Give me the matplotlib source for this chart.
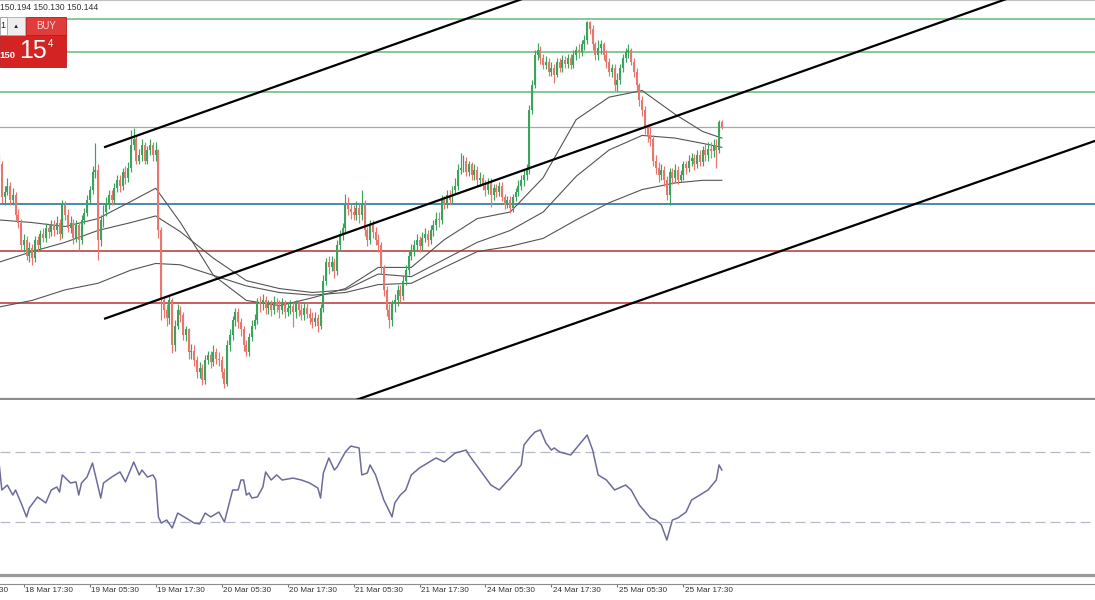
import matplotlib
matplotlib.use('Agg')
import matplotlib.pyplot as plt
import numpy as np
from matplotlib.patches import Rectangle

# --- data (USDJPY, M30) ---
first_open = 149.91
closes = [
    149.86, 149.61, 149.65, 149.70, 149.59, 149.63, 149.48, 149.42, 149.25, 149.29,
    149.17, 149.23, 149.15, 149.29, 149.25, 149.33, 149.30, 149.38, 149.35, 149.40,
    149.36, 149.42, 149.33, 149.55, 149.48, 149.38, 149.42, 149.30, 149.40, 149.29,
    149.44, 149.49, 149.59, 149.67, 149.80, 149.82, 149.29, 149.44, 149.50, 149.55,
    149.63, 149.59, 149.68, 149.74, 149.70, 149.80, 149.76, 149.83, 150.01, 150.05,
    149.89, 149.93, 150.01, 149.89, 149.97, 150.01, 149.93, 149.97, 149.36, 148.83,
    148.76, 148.70, 148.83, 148.49, 148.64, 148.76, 148.72, 148.57, 148.61, 148.44,
    148.45, 148.38, 148.29, 148.32, 148.23, 148.38, 148.42, 148.36, 148.44, 148.39,
    148.38, 148.29, 148.20, 148.49, 148.57, 148.68, 148.74, 148.67, 148.61, 148.49,
    148.44, 148.55, 148.64, 148.68, 148.82, 148.80, 148.83, 148.77, 148.80, 148.76,
    148.82, 148.79, 148.76, 148.80, 148.74, 148.77, 148.79, 148.74, 148.80, 148.76,
    148.72, 148.77, 148.73, 148.70, 148.67, 148.70, 148.64, 148.77, 148.98, 149.12,
    149.08, 149.12, 149.05, 149.25, 149.33, 149.38, 149.55, 149.52, 149.50, 149.48,
    149.53, 149.48, 149.55, 149.36, 149.29, 149.40, 149.35, 149.29, 149.25, 149.08,
    148.91, 148.76, 148.68, 148.80, 148.83, 148.91, 148.86, 148.98, 149.06, 149.17,
    149.21, 149.25, 149.29, 149.24, 149.30, 149.33, 149.29, 149.36, 149.40, 149.45,
    149.44, 149.59, 149.55, 149.63, 149.59, 149.67, 149.70, 149.82, 149.83, 149.89,
    149.80, 149.86, 149.78, 149.82, 149.74, 149.76, 149.70, 149.67, 149.73, 149.63,
    149.68, 149.65, 149.70, 149.61, 149.55, 149.59, 149.53, 149.61, 149.65, 149.70,
    149.74, 149.78, 149.82, 150.27, 150.46, 150.69, 150.73, 150.67, 150.61, 150.64,
    150.56, 150.59, 150.54, 150.64, 150.59, 150.65, 150.62, 150.67, 150.61, 150.69,
    150.73, 150.71, 150.77, 150.80, 150.94, 150.89, 150.77, 150.69, 150.74, 150.77,
    150.69, 150.64, 150.56, 150.59, 150.46, 150.50, 150.59, 150.67, 150.71, 150.73,
    150.64, 150.56, 150.46, 150.35, 150.27, 150.14, 150.08, 150.05, 149.89, 149.83,
    149.78, 149.82, 149.74, 149.63, 149.80, 149.76, 149.82, 149.74, 149.78, 149.86,
    149.83, 149.89, 149.91, 149.86, 149.93, 149.88, 149.97, 149.93, 149.98, 149.96,
    150.01, 149.97, 150.18, 150.144]
highs = [
    149.95, 149.89, 149.70, 149.76, 149.73, 149.68, 149.65, 149.52, 149.45, 149.33,
    149.32, 149.27, 149.26, 149.32, 149.32, 149.36, 149.38, 149.42, 149.41, 149.44,
    149.44, 149.47, 149.45, 149.59, 149.58, 149.52, 149.47, 149.45, 149.44, 149.42,
    149.48, 149.53, 149.63, 149.70, 149.85, 150.02, 149.86, 149.48, 149.55, 149.61,
    149.67, 149.67, 149.72, 149.78, 149.78, 149.83, 149.85, 149.88, 150.12, 150.14,
    150.08, 149.98, 150.05, 150.03, 150.00, 150.05, 150.03, 150.03, 149.98, 149.39,
    148.86, 148.80, 148.86, 148.85, 148.68, 148.80, 148.79, 148.74, 148.64, 148.62,
    148.50, 148.49, 148.41, 148.36, 148.35, 148.42, 148.45, 148.45, 148.49, 148.47,
    148.44, 148.41, 148.32, 148.53, 148.61, 148.71, 148.77, 148.77, 148.70, 148.64,
    148.53, 148.58, 148.68, 148.73, 148.85, 148.86, 148.88, 148.86, 148.83, 148.83,
    148.86, 148.85, 148.83, 148.85, 148.83, 148.82, 148.83, 148.82, 148.83, 148.83,
    148.80, 148.82, 148.82, 148.77, 148.74, 148.74, 148.73, 148.80, 149.02, 149.15,
    149.17, 149.17, 149.15, 149.29, 149.36, 149.42, 149.64, 149.61, 149.56, 149.55,
    149.58, 149.56, 149.67, 149.59, 149.39, 149.44, 149.44, 149.39, 149.33, 149.27,
    149.10, 148.94, 148.80, 148.83, 148.88, 148.95, 148.95, 149.02, 149.10, 149.21,
    149.26, 149.29, 149.33, 149.32, 149.35, 149.38, 149.36, 149.40, 149.44, 149.50,
    149.50, 149.63, 149.62, 149.67, 149.67, 149.70, 149.76, 149.86, 149.95, 149.93,
    149.92, 149.89, 149.88, 149.86, 149.85, 149.80, 149.79, 149.74, 149.76, 149.76,
    149.71, 149.71, 149.73, 149.73, 149.64, 149.62, 149.62, 149.64, 149.68, 149.74,
    149.78, 149.82, 149.86, 150.31, 150.50, 150.73, 150.78, 150.76, 150.70, 150.68,
    150.67, 150.64, 150.62, 150.67, 150.67, 150.69, 150.68, 150.70, 150.70, 150.73,
    150.76, 150.77, 150.80, 150.84, 150.95, 150.95, 150.92, 150.79, 150.80, 150.80,
    150.79, 150.73, 150.67, 150.62, 150.62, 150.55, 150.62, 150.70, 150.74, 150.77,
    150.74, 150.67, 150.59, 150.48, 150.38, 150.30, 150.17, 150.15, 150.08, 149.93,
    149.88, 149.86, 149.85, 149.77, 149.83, 149.83, 149.86, 149.85, 149.82, 149.89,
    149.89, 149.93, 149.95, 149.94, 149.97, 149.97, 150.00, 150.02, 150.03, 150.03,
    150.05, 150.05, 150.20, 150.194]
lows = [
    149.82, 149.57, 149.55, 149.63, 149.55, 149.55, 149.44, 149.38, 149.21, 149.20,
    149.14, 149.12, 149.10, 149.12, 149.20, 149.21, 149.27, 149.27, 149.30, 149.32,
    149.32, 149.33, 149.29, 149.30, 149.44, 149.35, 149.34, 149.26, 149.27, 149.21,
    149.26, 149.41, 149.47, 149.56, 149.64, 149.76, 149.14, 149.24, 149.39, 149.47,
    149.52, 149.55, 149.56, 149.65, 149.65, 149.67, 149.71, 149.73, 149.80, 149.97,
    149.86, 149.86, 149.89, 149.86, 149.86, 149.93, 149.89, 149.89, 149.30, 148.68,
    148.70, 148.64, 148.65, 148.43, 148.45, 148.61, 148.67, 148.53, 148.52, 148.39,
    148.39, 148.33, 148.24, 148.24, 148.19, 148.20, 148.35, 148.32, 148.33, 148.35,
    148.33, 148.24, 148.17, 148.18, 148.45, 148.53, 148.64, 148.62, 148.56, 148.45,
    148.41, 148.41, 148.52, 148.61, 148.65, 148.74, 148.76, 148.73, 148.73, 148.71,
    148.73, 148.74, 148.70, 148.73, 148.70, 148.71, 148.73, 148.63, 148.70, 148.71,
    148.68, 148.68, 148.70, 148.65, 148.62, 148.64, 148.59, 148.61, 148.74, 148.95,
    149.03, 149.05, 149.00, 149.02, 149.21, 149.29, 149.35, 149.48, 149.45, 149.44,
    149.44, 149.42, 149.44, 149.32, 149.24, 149.26, 149.30, 149.25, 149.20, 149.03,
    148.86, 148.71, 148.62, 148.64, 148.74, 148.79, 148.82, 148.83, 148.95, 149.02,
    149.14, 149.17, 149.21, 149.20, 149.21, 149.27, 149.24, 149.26, 149.32, 149.36,
    149.39, 149.41, 149.52, 149.53, 149.55, 149.56, 149.64, 149.67, 149.79, 149.80,
    149.77, 149.77, 149.74, 149.74, 149.70, 149.70, 149.67, 149.62, 149.64, 149.54,
    149.59, 149.61, 149.62, 149.58, 149.52, 149.53, 149.49, 149.50, 149.58, 149.62,
    149.67, 149.70, 149.74, 149.79, 150.24, 150.44, 150.65, 150.62, 150.58, 150.58,
    150.53, 150.53, 150.48, 150.52, 150.56, 150.56, 150.59, 150.59, 150.58, 150.59,
    150.65, 150.67, 150.68, 150.73, 150.77, 150.85, 150.73, 150.65, 150.65, 150.70,
    150.65, 150.59, 150.53, 150.52, 150.42, 150.42, 150.47, 150.56, 150.64, 150.67,
    150.61, 150.52, 150.42, 150.30, 150.23, 150.09, 150.03, 150.00, 149.85, 149.79,
    149.73, 149.74, 149.70, 149.59, 149.55, 149.71, 149.73, 149.71, 149.73, 149.74,
    149.79, 149.80, 149.85, 149.82, 149.83, 149.85, 149.85, 149.89, 149.89, 149.91,
    149.92, 149.83, 149.95, 150.130]

# moving averages (knots) - fast / middle / slow
ma_bars = [0, 12, 24, 36, 48, 57, 66, 78, 90, 102, 114, 126, 138, 150, 162, 174,
           186, 198, 210, 222, 234, 246, 256, 263]
ma_fast = [149.44, 149.42, 149.39, 149.45, 149.58, 149.68, 149.42, 149.02, 148.83,
           148.79, 148.85, 148.92, 149.08, 149.08, 149.29, 149.45, 149.50, 149.76,
           150.20, 150.37, 150.42, 150.24, 150.11, 150.06]
ma_mid = [149.12, 149.20, 149.27, 149.36, 149.42, 149.47, 149.35, 149.15, 148.98,
          148.92, 148.89, 148.91, 149.03, 149.01, 149.14, 149.27, 149.36, 149.50,
          149.77, 149.97, 150.08, 150.06, 150.02, 149.99]
ma_slow = [148.78, 148.83, 148.91, 148.96, 149.06, 149.11, 149.10, 149.02, 148.94,
           148.89, 148.87, 148.89, 148.95, 148.96, 149.08, 149.20, 149.24, 149.30,
           149.44, 149.57, 149.67, 149.72, 149.74, 149.74]

# RSI
rsi_bars = [0, 1, 3, 5, 6, 8, 10, 11, 14, 17, 19, 21, 22, 23, 26, 28, 29, 30, 32, 34,
            37, 38, 41, 44, 46, 49, 51, 52, 54, 56, 57, 58, 59, 61, 63, 65, 68, 71, 73, 75,
            77, 80, 82, 85, 87, 88, 89, 90, 91, 92, 94, 96, 97, 99, 101, 103, 107, 110, 113, 116,
            117, 118, 120, 122, 123, 126, 128, 131, 132, 134, 135, 137, 140, 143, 144, 146, 148, 150, 153, 159,
            162, 166, 170, 171, 175, 179, 182, 186, 190, 191, 193, 195, 197, 199, 201, 202, 204, 208, 211, 214,
            216, 218, 221, 224, 228, 230, 233, 237, 239, 241, 243, 245, 247, 250, 252, 255, 258, 261, 262, 263]
rsi_vals = [63.7, 48.3, 51.1, 45.4, 48.3, 40.9, 32.9, 38.0, 44.3, 40.9,
            48.3, 50.0, 47.1, 56.9, 52.3, 52.9, 45.4, 52.3, 55.7, 63.7,
            43.7, 52.3, 55.7, 58.6, 52.9, 64.3, 56.9, 59.7, 55.7, 56.9,
            54.0, 32.9, 29.4, 31.1, 26.6, 35.1, 32.3, 29.4, 28.9, 35.1,
            32.9, 35.7, 30.0, 48.3, 48.3, 54.0, 54.0, 45.4, 46.6, 43.7,
            44.3, 50.0, 58.6, 54.0, 56.9, 54.0, 55.1, 54.0, 52.3, 49.4,
            43.7, 58.0, 66.6, 59.7, 61.4, 70.0, 73.4, 72.3, 56.9, 58.0,
            62.6, 56.9, 42.6, 32.9, 40.9, 45.4, 48.3, 56.9, 60.9, 66.6,
            64.3, 69.4, 71.1, 68.3, 59.7, 51.1, 48.3, 55.1, 62.6, 74.0,
            78.0, 81.4, 82.6, 75.1, 71.1, 72.3, 70.0, 68.3, 74.0, 79.7,
            71.1, 56.9, 54.0, 48.3, 51.1, 48.3, 39.7, 32.3, 31.1, 28.3,
            19.7, 31.1, 32.3, 35.7, 42.6, 45.4, 48.3, 54.0, 62.6, 59.7]
rsi_levels = [70, 30]

# drawn objects
green_levels = [150.960, 150.710, 150.411]
bid = 150.144
blue_level = 149.558
red_levels = [149.204, 148.808]
channels = [[(38.2, 149.99), (195, 151.148)],
            [(38.2, 148.69), (370, 151.139)],
            [(125, 148.04), (399, 150.04)]]

tick_labels = ['18 Mar 05:30', '18 Mar 17:30', '19 Mar 05:30', '19 Mar 17:30',
               '20 Mar 05:30', '20 Mar 17:30', '21 Mar 05:30', '21 Mar 17:30',
               '24 Mar 05:30', '24 Mar 17:30', '25 Mar 05:30', '25 Mar 17:30']
tick_bars = np.arange(-15, 264, 24)[:len(tick_labels)]

# --- figure ---
W, H = 1095, 600
plt.rcParams['font.family'] = ['Liberation Sans', 'DejaVu Sans']
fig = plt.figure(figsize=(W / 100, H / 100), dpi=100)
fig.patch.set_facecolor('white')

XLIM = (0.34, 398.8)


def band(top, bottom):
    a = fig.add_axes([0, 1 - bottom / H, 1, (bottom - top) / H])
    a.set_xlim(*XLIM)
    a.set_xticks([])
    a.set_yticks([])
    for s in a.spines.values():
        s.set_visible(False)
    return a


ax = band(0, 398.5)
ax.set_ylim(151.106 - 398.5 / 132, 151.106)
ax.spines['bottom'].set_visible(True)
ax.spines['bottom'].set_color('#8c8c8c')
ax.spines['bottom'].set_linewidth(1.6)
ax.spines['top'].set_visible(True)
ax.spines['top'].set_color('#c0c0c0')
ax.spines['top'].set_linewidth(0.8)

GREEN = '#3aa35c'
RED = '#e8766c'
for lv in green_levels:
    ax.axhline(lv, color='#7cc48a', lw=1.3, zorder=1)
ax.axhline(bid, color='#a8a8a8', lw=0.9, zorder=1)
ax.axhline(blue_level, color='#3f7fa6', lw=1.3, zorder=1)
for lv in red_levels:
    ax.axhline(lv, color='#c4524f', lw=1.3, zorder=1)

c = np.array(closes)
o = np.array([first_open] + closes[:-1])
h = np.maximum(np.array(highs), np.maximum(o, c))
l = np.minimum(np.array(lows), np.minimum(o, c))
idx = np.arange(len(c))
cols = np.where(c >= o, GREEN, RED)
ax.vlines(idx, l, h, colors=cols, lw=0.85, zorder=3)
ax.bar(idx, np.maximum(np.abs(c - o), 0.005), bottom=np.minimum(o, c),
       width=0.72, color=cols, linewidth=0, zorder=3)

for ma in (ma_fast, ma_mid, ma_slow):
    ax.plot(ma_bars, ma, color='#555555', lw=0.8, zorder=2)

for (x0, y0), (x1, y1) in channels:
    ax.plot([x0, x1], [y0, y1], color='black', lw=1.6, zorder=4,
            solid_capstyle='butt')

# RSI panel
ax_rsi = band(399.5, 574.5)
ax_rsi.set_ylim(0, 100)
ax_rsi.spines['bottom'].set_visible(True)
ax_rsi.spines['bottom'].set_color('#9a9a9a')
ax_rsi.spines['bottom'].set_linewidth(2.3)
for lv in rsi_levels:
    ax_rsi.axhline(lv, color='#b8b8cc', lw=0.9, dashes=(8, 4))
ax_rsi.plot(rsi_bars, rsi_vals, color='#6c6c9c', lw=1.1)

# time axis
ax_t = band(583.5, 600)
ax_t.spines['top'].set_visible(True)
ax_t.spines['top'].set_color('#8c8c8c')
ax_t.spines['top'].set_linewidth(0.8)
ax_t.set_xticks([b for b in tick_bars if b > XLIM[0]])
ax_t.tick_params(axis='x', top=True, bottom=False, direction='in', length=2.5,
                 color='#777777', labelbottom=False, labeltop=False)
for b, lab in zip(tick_bars, tick_labels):
    ax_t.annotate(lab, xy=(b, 1), xycoords=('data', 'axes fraction'),
                  xytext=(1.2, -2.4), textcoords='offset points', ha='left',
                  va='top', fontsize=5.9, color='#333333', annotation_clip=False)


# --- one-click trading widget and header (pixel coordinates) ---
def prect(x, y, w, hh, **kw):
    fig.add_artist(Rectangle((x / W, 1 - (y + hh) / H), w / W, hh / H,
                             transform=fig.transFigure, **kw))


def ptext(x, y, s, **kw):
    fig.text(x / W, 1 - y / H, s, **kw)


ptext(0, 8, '150.194 150.130 150.144', fontsize=6.2, color='#333333',
      va='center', ha='left')
prect(0, 35, 66, 32, facecolor='#d42323', edgecolor='#b51a1a', lw=0.6)
prect(26, 17, 40, 18, facecolor='#e03c3c', edgecolor='#b51a1a', lw=0.6)
prect(0, 17, 7, 18, facecolor='white', edgecolor='#999999', lw=0.6)
prect(7, 17, 18, 18, facecolor='#eeeeee', edgecolor='#aaaaaa', lw=0.6)
ptext(0, 26, '1', fontsize=6.5, color='#222222', va='center', ha='left')
ptext(16, 26, '▲', fontsize=4.5, color='#222222', va='center', ha='center')
ptext(46, 26, 'BUY', fontsize=7, color='#ffd3d3', va='center', ha='center')
ptext(33, 51, '15', fontsize=18, color='white', va='center', ha='center')
ptext(51, 44, '4', fontsize=7, color='white', va='center', ha='center')
ptext(7, 56, '150', fontsize=6.8, color='white', va='center', ha='center',
      fontweight='bold')

fig.savefig('out.png', dpi=100, facecolor='white')
